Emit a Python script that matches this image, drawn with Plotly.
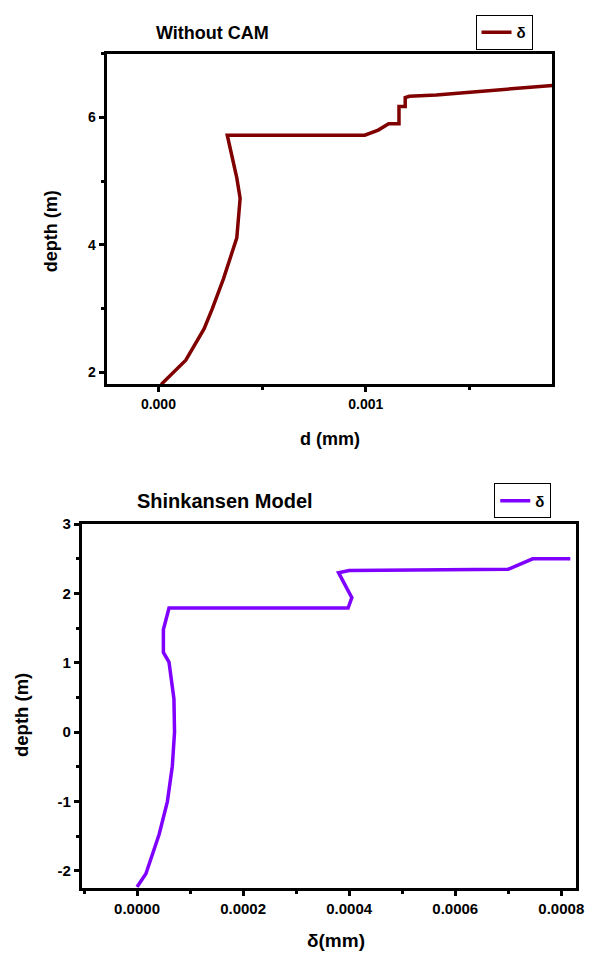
import plotly.graph_objects as go

# ---- data ----
top_x = [0.0000133, 0.000132, 0.00022, 0.00026, 0.000314, 0.000378, 0.000394, 0.000378,
         0.000332, 0.000995, 0.00106, 0.00111, 0.00116, 0.00116, 0.00119, 0.00119,
         0.00121, 0.00134, 0.0019]
top_depth = [1.81, 2.19, 2.68, 3.0, 3.47, 4.11, 4.73, 5.05,
             5.72, 5.72, 5.80, 5.90, 5.90, 6.17, 6.17, 6.31,
             6.33, 6.35, 6.50]

bot_x = [0.0, 0.0000167, 0.0000417, 0.0000572, 0.0000665, 0.0000707, 0.0000696,
         0.0000603, 0.0000497, 0.0000497, 0.0000603, 0.000398, 0.000405, 0.00038,
         0.0004, 0.0007, 0.000746, 0.000817]
bot_depth = [-2.23, -2.04, -1.47, -1.0, -0.49, 0.0, 0.48,
             1.01, 1.15, 1.48, 1.79, 1.79, 1.94, 2.30,
             2.33, 2.35, 2.50, 2.50]

top_title = "Without CAM"
bot_title = "Shinkansen Model"
series_name = "δ"
top_xlabel = "d (mm)"
bot_xlabel = "δ(mm)"
ylabel = "depth (m)"

bot_yticks = [-2, -1, 0, 1, 2, 3]
bot_yticktext = ["-2", "-1", "0", "1", "2", "3"]

W, H = 595, 955
FONT = "Liberation Sans, Arial, sans-serif"

def px_x(p):
    return p / W

def px_y(p):
    return 1 - p / H

fig = go.Figure()
fig.add_trace(go.Scatter(x=top_x, y=top_depth, mode="lines", name=series_name,
                         line=dict(color="#800000", width=3.5),
                         xaxis="x", yaxis="y", legend="legend"))
fig.add_trace(go.Scatter(x=bot_x, y=bot_depth, mode="lines", name=series_name,
                         line=dict(color="#8000FF", width=3.5),
                         xaxis="x2", yaxis="y2", legend="legend2"))

def axis_common(fs):
    return dict(showline=True, linecolor="black", linewidth=3, mirror=True,
                showgrid=False, zeroline=False, ticks="outside", ticklen=5,
                tickwidth=2.5, tickcolor="black", ticklabeloverflow="allow",
                tickfont=dict(family=FONT, size=fs, color="black", weight="bold"))

def minor(**kw):
    d = dict(ticks="outside", ticklen=3, tickwidth=2.5, tickcolor="black")
    d.update(kw)
    return d

fig.update_layout(
    width=W, height=H,
    margin=dict(l=0, r=0, t=0, b=0),
    paper_bgcolor="white", plot_bgcolor="white",
    xaxis=dict(domain=[px_x(108), px_x(560)], range=[-0.00025, 0.0019],
               tick0=0, dtick=0.001, tickformat=".3f", minor=minor(dtick=0.0005),
               anchor="y", **axis_common(14)),
    yaxis=dict(domain=[px_y(379), px_y(45)], range=[1.81, 7.0],
               tick0=2, dtick=2, minor=minor(dtick=1),
               anchor="x", **axis_common(14)),
    xaxis2=dict(domain=[px_x(83), px_x(584)], range=[-0.000104, 0.000828],
                tick0=0, dtick=0.0002, tickformat=".4f", minor=minor(dtick=0.0001),
                anchor="y2", **axis_common(15)),
    yaxis2=dict(domain=[px_y(887), px_y(520)], range=[-2.24, 3.0],
                tickmode="array", tickvals=bot_yticks, ticktext=bot_yticktext,
                minor=minor(tickmode="array", tickvals=[-1.5, -0.5, 0.5, 1.5, 2.5]),
                anchor="x2", **axis_common(15)),
    legend=dict(x=px_x(482), y=px_y(6), xanchor="left", yanchor="top",
                bordercolor="black", borderwidth=1, bgcolor="white",
                font=dict(family=FONT, size=15, color="black", weight="bold"),
                tracegroupgap=0, itemwidth=30),
    legend2=dict(x=px_x(501), y=px_y(479), xanchor="left", yanchor="top",
                 bordercolor="black", borderwidth=1, bgcolor="white",
                 font=dict(family=FONT, size=15, color="black", weight="bold"),
                 tracegroupgap=0, itemwidth=30),
    showlegend=True,
)

def label(text, x, y, size=14, angle=0):
    fig.add_annotation(text=text, x=px_x(x), y=px_y(y), xref="paper", yref="paper",
                       xanchor="center", yanchor="middle",
                       showarrow=False, textangle=angle,
                       font=dict(family=FONT, size=size, color="black", weight="bold"))

label(top_title, 215, 24, size=18)
label(bot_title, 228, 497, size=20)
label(ylabel, 52, 224, size=18, angle=-90)
label(ylabel, 22, 713, size=18.5, angle=-90)
label(top_xlabel, 334, 434, size=18)
label(bot_xlabel, 341, 940, size=19)

# remove the browser's default 8px body margin so the 595x955 figure fills the window
fig.write_html("out.html", config={"displayModeBar": False},
               post_script="document.body.style.margin='0px';")
